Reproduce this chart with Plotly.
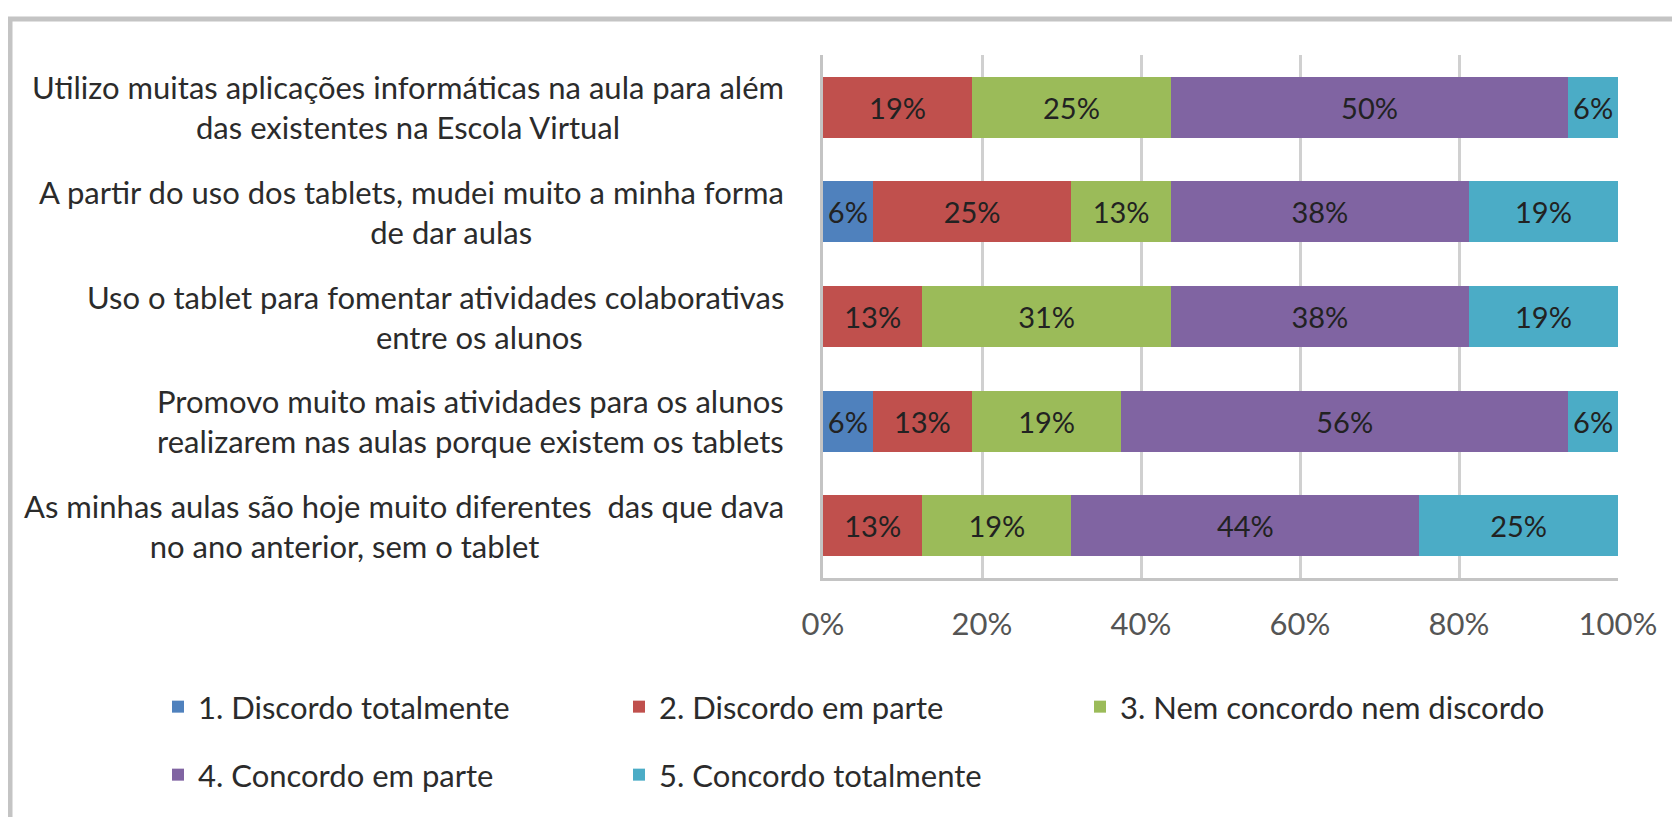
import plotly.graph_objects as go

categories = [
    "Utilizo muitas aplicações informáticas na aula para além<br>das existentes na Escola Virtual",
    "A partir do uso dos tablets, mudei muito a minha forma<br>de dar aulas",
    "Uso o tablet para fomentar atividades colaborativas<br>entre os alunos",
    "Promovo muito mais atividades para os alunos<br>realizarem nas aulas porque existem os tablets",
    "As minhas aulas são hoje muito diferentes  das que dava<br>no ano anterior, sem o tablet",
]
series_names = [
    "1. Discordo totalmente",
    "2. Discordo em parte",
    "3. Nem concordo nem discordo",
    "4. Concordo em parte",
    "5. Concordo totalmente",
]
discordo_totalmente = [0, 6.25, 0, 6.25, 0]
discordo_em_parte = [18.75, 25, 12.5, 12.5, 12.5]
nem_concordo = [25, 12.5, 31.25, 18.75, 18.75]
concordo_em_parte = [50, 37.5, 37.5, 56.25, 43.75]
concordo_totalmente = [6.25, 18.75, 18.75, 6.25, 25]
series_values = [discordo_totalmente, discordo_em_parte, nem_concordo,
                 concordo_em_parte, concordo_totalmente]
colors = ["#4F81BD", "#C0504D", "#9BBB59", "#8064A2", "#4BACC6"]
tick_vals = [0, 20, 40, 60, 80, 100]
tick_text = ["0%", "20%", "40%", "60%", "80%", "100%"]

FONT = "Lato, 'Open Sans', sans-serif"
OFF = 8  # default page margin of the html body
W, H = 1680 - OFF, 817 - OFF
# plot area in screen pixels: x 823..1618, y 55..578
ML, MT = 823 - OFF, 55 - OFF
MR = W - (1618 - OFF)
MB = H - (578 - OFF)
PW, PH = W - ML - MR, H - MT - MB


def px_x(p):
    return (p - OFF - ML) / PW


def px_y(p):
    return (H - MB - (p - OFF)) / PH


fig = go.Figure()
for i, (name, vals, col) in enumerate(zip(series_names, series_values, colors)):
    txt = [f"{int(v + 0.5)}%" if v > 0 else "" for v in vals]
    fig.add_trace(go.Bar(
        y=categories, x=vals, name=name, orientation="h",
        marker=dict(color=col, line=dict(width=0)),
        text=txt, textposition="inside", insidetextanchor="middle",
        textangle=0,
        textfont=dict(family=FONT, size=29, color="#222222"),
        legend="legend" if i < 3 else "legend2",
        legendwidth=470 if i == 2 else None,
        hoverinfo="skip",
    ))

# second-line offsets (non-breaking spaces) to mimic the original wrapping
NB = "\u00a0"
line2_pad = {1: ("lead", 10), 2: ("lead", 11), 4: ("trail", 15)}
for idx, cat in enumerate(categories):
    first, second = cat.split("<br>")
    if idx in line2_pad:
        side, n = line2_pad[idx]
        second = NB * n + second if side == "lead" else second + NB * n
    fig.add_annotation(
        x=px_x(786), xref="paper", y=cat, yref="y",
        text=first + "<br>" + second, showarrow=False,
        xanchor="right", yanchor="middle",
        align="center", font=dict(family=FONT, size=31, color="#2B2B2B"),
    )

fig.add_shape(type="rect", xref="paper", yref="paper",
              x0=px_x(10), y0=px_y(19), x1=px_x(1720), y1=px_y(860),
              line=dict(color="#C4C4C4", width=5), fillcolor="rgba(0,0,0,0)",
              layer="below")

legend_common = dict(
    orientation="h", xanchor="left", yanchor="middle",
    font=dict(family=FONT, size=31, color="#2B2B2B"),
    entrywidth=416, entrywidthmode="pixels",
    bgcolor="rgba(0,0,0,0)", itemclick=False, itemdoubleclick=False,
    traceorder="normal",
)

fig.update_layout(
    width=W, height=H, barmode="stack", bargap=0.417,
    margin=dict(l=ML, r=MR, t=MT, b=MB, autoexpand=False),
    paper_bgcolor="white", plot_bgcolor="white",
    font=dict(family=FONT),
    uniformtext=dict(minsize=29, mode="show"),
    xaxis=dict(range=[0, 100], tickvals=tick_vals, ticktext=tick_text,
               showgrid=True, gridcolor="#D0D0D0", gridwidth=3,
               showline=True, linecolor="#C4C4C4", linewidth=3,
               zeroline=False, ticks="", ticklabelstandoff=17,
               tickfont=dict(family=FONT, size=31, color="#555555"),
               automargin=False, fixedrange=True),
    yaxis=dict(autorange="reversed", showticklabels=False,
               showline=True, linecolor="#C4C4C4", linewidth=3,
               showgrid=False, ticks="", automargin=False, fixedrange=True),
    legend=dict(x=px_x(158), y=px_y(707), **legend_common),
    legend2=dict(x=px_x(158), y=px_y(775), **legend_common),
)

fig.write_html("out.html")
